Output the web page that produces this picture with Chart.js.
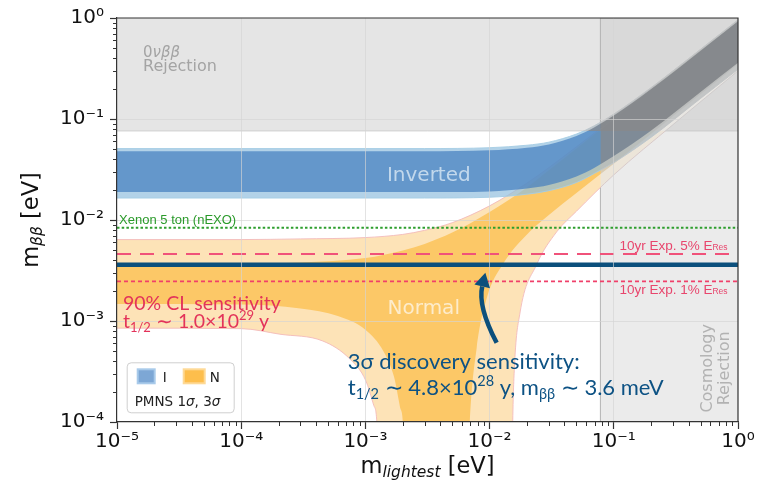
<!DOCTYPE html>
<html>
<head>
<meta charset="utf-8">
<script src="https://cdn.jsdelivr.net/npm/chart.js@4.4.1/dist/chart.umd.min.js"></script>
<style>html,body{margin:0;padding:0;background:#fff;}canvas{display:block;}</style>
</head>
<body>
<canvas id="c" width="767" height="482"></canvas>
<script>
// ---------------- data ----------------
const xTicks = [1e-5, 1e-4, 1e-3, 1e-2, 1e-1, 1];
const xTickLabels = ['10\u207B\u2075', '10\u207B\u2074', '10\u207B\u00B3', '10\u207B\u00B2', '10\u207B\u00B9', '10\u2070'];
const yTicks = [1e-4, 1e-3, 1e-2, 1e-1, 1];
const yTickLabels = ['10\u207B\u2074', '10\u207B\u00B3', '10\u207B\u00B2', '10\u207B\u00B9', '10\u2070'];

// Inverted ordering band (m_lightest -> m_bb, eV)
const ioM   = [1e-5, 1e-4, 1e-3, 3e-3, 0.01, 0.02, 0.03, 0.05, 0.07, 0.1, 0.2, 0.5, 1];
const io3Up = [0.051, 0.051, 0.051, 0.051, 0.052, 0.055, 0.059, 0.071, 0.086, 0.112, 0.205, 0.49, 0.96];
const io1Up = [0.048, 0.048, 0.048, 0.048, 0.049, 0.052, 0.056, 0.068, 0.083, 0.108, 0.198, 0.475, 0.93];
const io1Lo = [0.0189, 0.0189, 0.0189, 0.0189, 0.0192, 0.0205, 0.0222, 0.027, 0.033, 0.043, 0.077, 0.185, 0.36];
const io3Lo = [0.0165, 0.0165, 0.0165, 0.0165, 0.0168, 0.018, 0.0195, 0.0235, 0.029, 0.037, 0.066, 0.16, 0.31];

// Normal ordering band
const noUpM = [1e-5, 1e-4, 3e-4, 1e-3, 2e-3, 3e-3, 5e-3, 0.01, 0.02, 0.03, 0.05, 0.1, 0.3, 1];
const no3Up = [0.0064, 0.0064, 0.0065, 0.0067, 0.0072, 0.0079, 0.0094, 0.0138, 0.0232, 0.033, 0.053, 0.102, 0.30, 0.95];
const no1Up = [0.0037, 0.0037, 0.0038, 0.0042, 0.0050, 0.0058, 0.0075, 0.0120, 0.021, 0.031, 0.051, 0.100, 0.295, 0.93];
const no1LoM = [1e-5, 1e-4, 3e-4, 6e-4, 1e-3, 1.4e-3, 1.7e-3, 1.9e-3, 2.0e-3, 2.1e-3, 6.6e-3, 6.92e-3, 7.87e-3, 9.48e-3, 0.01274, 0.021, 0.03, 0.05, 0.1, 0.3, 1];
const no1Lo  = [1.47e-3, 1.46e-3, 1.33e-3, 1.12e-3, 8.2e-4, 5.0e-4, 2.8e-4, 1.4e-4, 1.0e-4, 2e-5, 2e-5, 1.0e-4, 5.4e-4, 1.68e-3, 3.62e-3, 7.64e-3, 0.0112, 0.0185, 0.036, 0.107, 0.35];
const no3LoM = [1e-5, 1e-4, 2.05e-4, 4.54e-4, 7.48e-4, 1.007e-3, 1.168e-3, 1.236e-3, 1.28e-3, 0.0151, 0.01535, 0.0159, 0.0175, 0.0239, 0.0347, 0.05, 0.1, 0.3, 1];
const no3Lo  = [8.5e-4, 8.4e-4, 7.4e-4, 6.34e-4, 4.22e-4, 2.57e-4, 1.46e-4, 1.0e-4, 2e-5, 2e-5, 1.0e-4, 3.78e-4, 1.17e-3, 3.62e-3, 7.64e-3, 0.0122, 0.028, 0.088, 0.30];

// sensitivity lines (m_bb, eV)
const xenonLimit = 0.0084;
const exp5Limit = 0.0046;
const discLimit = 0.0036;
const exp1Limit = 0.00247;
// excluded regions
const dbdLimit = 0.0762;   // m_bb above this rejected
const cosmoLimit = 0.078;  // m_lightest above this rejected

// annotation anchors (data units: [m_lightest, m_bb])
const notes = {
  dbd1: [1.62e-5, 0.415], dbd2: [1.62e-5, 0.296],
  inverted: [3.24e-3, 0.0241], normal: [2.95e-3, 1.17e-3],
  xenon: [1.04e-5, 9.14e-3],
  res5: [0.824, 5.08e-3], res1: [0.824, 1.84e-3],
  cl1: [1.117e-5, 1.28e-3], cl2: [1.117e-5, 8.54e-4],
  disc1: [7.21e-4, 3.31e-4], disc2: [7.21e-4, 1.84e-4],
  cosmo1: [0.612, 3.4e-4], cosmo2: [0.839, 3.4e-4],
  legend: [1.197e-5, 3.9e-4],
  arrowTail: [0.0114, 6.08e-4], arrowCtrl: [8.01e-3, 1.40e-3], arrowEnd: [8.72e-3, 2.20e-3]
};

// ---------------- build datasets ----------------
const xMin = xTicks[0], xMax = xTicks[xTicks.length - 1];
const yMin = yTicks[0], yMax = yTicks[yTicks.length - 1];
const S = (xs, ys) => xs.map((x, i) => ({x: x, y: ys[i]}));
const datasets = [];
function addDs(o) {
  datasets.push(Object.assign({pointRadius: 0, pointHoverRadius: 0, borderWidth: 0, fill: false, borderColor: 'rgba(0,0,0,0)'}, o));
  return datasets.length - 1;
}
const mono = 'monotone';

// rejection zones (base)
addDs({data: S([xMin, xMax], [dbdLimit, dbdLimit]), fill: 'end', backgroundColor: '#e5e5e5', borderColor: '#d0d0d0', borderWidth: 1, order: 100});
addDs({data: S([cosmoLimit, cosmoLimit, xMax], [yMin, yMax, yMax]), fill: 'start', backgroundColor: 'rgba(190,191,192,0.31)', borderColor: '#b2b2b2', borderWidth: 1, order: 99});

// normal ordering
const no3LoI = addDs({data: S(no3LoM, no3Lo), order: 90, borderColor: 'rgba(243,186,186,0.9)', borderWidth: 1, cubicInterpolationMode: mono});
addDs({data: S(noUpM, no3Up), order: 90, fill: no3LoI, backgroundColor: '#fde3b7', borderColor: 'rgba(243,186,186,0.9)', borderWidth: 1, cubicInterpolationMode: mono});
const no1LoI = addDs({data: S(no1LoM, no1Lo), order: 80, cubicInterpolationMode: mono});
addDs({data: S(noUpM, no1Up), order: 80, fill: no1LoI, backgroundColor: '#fcc867', cubicInterpolationMode: mono});

// inverted ordering
const io3LoI = addDs({data: S(ioM, io3Lo), order: 70, borderColor: 'rgba(165,205,228,0.9)', borderWidth: 1, cubicInterpolationMode: mono});
addDs({data: S(ioM, io3Up), order: 70, fill: io3LoI, backgroundColor: 'rgba(145,191,222,0.7)', borderColor: 'rgba(165,205,228,0.9)', borderWidth: 1, cubicInterpolationMode: mono});
const io1LoI = addDs({data: S(ioM, io1Lo), order: 60, cubicInterpolationMode: mono});
addDs({data: S(ioM, io1Up), order: 60, fill: io1LoI, backgroundColor: 'rgba(67,126,191,0.7)', cubicInterpolationMode: mono});

// desaturating veil over the rejection zones
addDs({data: S([xMin, xMax], [dbdLimit, dbdLimit]), fill: 'end', backgroundColor: 'rgba(128,128,128,0.72)', blend: 'saturation', order: 50});
addDs({data: S([cosmoLimit, cosmoLimit, xMax], [yMin, yMax, yMax]), fill: 'start', backgroundColor: 'rgba(128,128,128,0.72)', blend: 'saturation', order: 50});

// sensitivity lines
addDs({data: S([xMin, xMax], [xenonLimit, xenonLimit]), borderColor: '#2e9e2e', borderWidth: 2, borderDash: [2.5, 2.2], order: 13});
addDs({data: S([xMin, xMax], [exp5Limit, exp5Limit]), borderColor: '#f0527a', borderWidth: 2, borderDash: [14, 9], order: 12});
addDs({data: S([xMin, xMax], [exp1Limit, exp1Limit]), borderColor: '#f0406a', borderWidth: 1.6, borderDash: [4, 3], order: 11});
addDs({data: S([xMin, xMax], [discLimit, discLimit]), borderColor: '#0b4f7c', borderWidth: 4.5, order: 10});

// ---------------- plugins ----------------
const blendPlugin = {
  id: 'blend',
  beforeDatasetDraw(chart, args) {
    const b = chart.data.datasets[args.index].blend;
    if (b) { chart.ctx.save(); chart.ctx.globalCompositeOperation = b; }
  },
  afterDatasetDraw(chart, args) {
    if (chart.data.datasets[args.index].blend) chart.ctx.restore();
  }
};
// make the blend hook run before the filler draws each fill
const fillerPlugin = Chart.registry.getPlugin('filler');
Chart.unregister(fillerPlugin);
Chart.register(blendPlugin);
Chart.register(fillerPlugin);

const whiteBg = {
  id: 'whiteBg',
  beforeDraw(chart) {
    const ctx = chart.ctx;
    ctx.save(); ctx.fillStyle = '#ffffff'; ctx.fillRect(0, 0, chart.width, chart.height); ctx.restore();
  }
};

function rich(ctx, x, y, segs, align) {
  let w = 0;
  segs.forEach(s => { ctx.font = s.f; s.w = ctx.measureText(s.t).width; w += s.w; });
  let cx = align === 'center' ? x - w / 2 : (align === 'right' ? x - w : x);
  ctx.textAlign = 'left';
  ctx.textBaseline = 'alphabetic';
  segs.forEach(s => { ctx.font = s.f; ctx.fillText(s.t, cx, y + (s.dy || 0)); cx += s.w; });
}

const DV = "'DejaVu Sans'";
const LA = "Lato, 'Open Sans', sans-serif";
const LS = "'Liberation Sans', Arial, sans-serif";

const decorPlugin = {
  id: 'decor',
  afterDraw(chart) {
    const ctx = chart.ctx, xs = chart.scales.x, ys = chart.scales.y, a = chart.chartArea;
    const P = k => [xs.getPixelForValue(notes[k][0]), ys.getPixelForValue(notes[k][1])];
    ctx.save();
    // minor ticks
    ctx.strokeStyle = '#333'; ctx.lineWidth = 1;
    for (let e = Math.log10(xMin); e < Math.log10(xMax); e++) {
      for (let k = 2; k <= 9; k++) {
        const px = Math.round(xs.getPixelForValue(k * Math.pow(10, e))) + 0.5;
        ctx.beginPath(); ctx.moveTo(px, a.bottom); ctx.lineTo(px, a.bottom + 4); ctx.stroke();
      }
    }
    for (let e = Math.log10(yMin); e < Math.log10(yMax); e++) {
      for (let k = 2; k <= 9; k++) {
        const py = Math.round(ys.getPixelForValue(k * Math.pow(10, e))) + 0.5;
        ctx.beginPath(); ctx.moveTo(a.left, py); ctx.lineTo(a.left - 4, py); ctx.stroke();
      }
    }
    // top / right frame
    ctx.strokeStyle = '#333'; ctx.lineWidth = 1.2;
    ctx.beginPath(); ctx.moveTo(a.left, a.top); ctx.lineTo(a.right, a.top); ctx.lineTo(a.right, a.bottom); ctx.stroke();

    // region labels
    let p;
    ctx.fillStyle = '#a4a4a4';
    p = P('dbd1'); rich(ctx, p[0], p[1], [{t: '0', f: '15px ' + DV}, {t: '\u03BD\u03B2\u03B2', f: 'italic 15px ' + DV}], 'left');
    p = P('dbd2'); rich(ctx, p[0], p[1], [{t: 'Rejection', f: '16px ' + DV}], 'left');

    ctx.fillStyle = '#c2d8ec';
    p = P('inverted'); rich(ctx, p[0], p[1], [{t: 'Inverted', f: '20px ' + DV}], 'center');
    ctx.fillStyle = '#fdeccc';
    p = P('normal'); rich(ctx, p[0], p[1], [{t: 'Normal', f: '20px ' + DV}], 'center');

    ctx.fillStyle = '#2a9a2a';
    p = P('xenon'); rich(ctx, p[0], p[1], [{t: 'Xenon 5 ton (nEXO)', f: '13px ' + LS}], 'left');

    ctx.fillStyle = '#e8466d';
    p = P('res5'); rich(ctx, p[0], p[1], [{t: '10yr Exp. 5% E', f: '13.5px ' + LS}, {t: 'Res', f: '8.5px ' + LS}], 'right');
    p = P('res1'); rich(ctx, p[0], p[1], [{t: '10yr Exp. 1% E', f: '13.5px ' + LS}, {t: 'Res', f: '8.5px ' + LS}], 'right');

    ctx.fillStyle = '#e3335a';
    p = P('cl1'); rich(ctx, p[0], p[1], [{t: '90% CL sensitivity', f: '19.5px ' + LA}], 'left');
    p = P('cl2'); rich(ctx, p[0], p[1], [
      {t: 't', f: '19.5px ' + LA}, {t: '1/2', f: '13px ' + LA, dy: 4},
      {t: ' \u223C 1.0\u00D710', f: '19.5px ' + LA}, {t: '29', f: '13px ' + LA, dy: -8}, {t: ' y', f: '19.5px ' + LA}], 'left');

    ctx.fillStyle = '#0d5284';
    p = P('disc1'); rich(ctx, p[0], p[1], [{t: '3\u03C3 discovery sensitivity:', f: '22px ' + LA}], 'left');
    p = P('disc2'); rich(ctx, p[0], p[1], [
      {t: 't', f: '22px ' + LA}, {t: '1/2', f: '14.5px ' + LA, dy: 4},
      {t: ' \u223C 4.8\u00D710', f: '22px ' + LA}, {t: '28', f: '14.5px ' + LA, dy: -9},
      {t: ' y, m', f: '22px ' + LA}, {t: '\u03B2\u03B2', f: '14.5px ' + LA, dy: 4},
      {t: ' \u223C 3.6 meV', f: '22px ' + LA}], 'left');

    // cosmology label (rotated)
    ctx.fillStyle = '#b2b2b2';
    ['cosmo1', 'cosmo2'].forEach((k, i) => {
      const q = P(k);
      ctx.save(); ctx.translate(q[0], q[1]); ctx.rotate(-Math.PI / 2);
      rich(ctx, 0, 0, [{t: i === 0 ? 'Cosmology' : 'Rejection', f: '16px ' + DV}], 'center');
      ctx.restore();
    });

    // arrow
    const t0 = P('arrowTail'), c0 = P('arrowCtrl'), e0 = P('arrowEnd');
    ctx.strokeStyle = '#0b4f7c'; ctx.fillStyle = '#0b4f7c'; ctx.lineWidth = 4.5; ctx.lineCap = 'butt';
    ctx.beginPath(); ctx.moveTo(t0[0], t0[1]); ctx.quadraticCurveTo(c0[0], c0[1], e0[0], e0[1]); ctx.stroke();
    let dx = e0[0] - c0[0], dy = e0[1] - c0[1]; const L = Math.hypot(dx, dy); dx /= L; dy /= L;
    ctx.beginPath();
    ctx.moveTo(e0[0] + dx * 14, e0[1] + dy * 14);
    ctx.lineTo(e0[0] - dy * 8, e0[1] + dx * 8);
    ctx.lineTo(e0[0] + dy * 8, e0[1] - dx * 8);
    ctx.closePath(); ctx.fill();

    // legend box
    const lg = P('legend');
    const lx = lg[0], ly = lg[1];
    ctx.fillStyle = 'rgba(255,255,255,0.9)'; ctx.strokeStyle = '#cfcfcf'; ctx.lineWidth = 1;
    ctx.beginPath(); ctx.roundRect(lx + 0.5, ly + 0.5, 107, 50, 4); ctx.fill(); ctx.stroke();
    ctx.lineWidth = 2;
    ctx.fillStyle = '#7da7d5'; ctx.strokeStyle = '#a8caea';
    ctx.fillRect(lx + 11, ly + 7, 17, 14); ctx.strokeRect(lx + 11, ly + 7, 17, 14);
    ctx.fillStyle = '#fdbe4c'; ctx.strokeStyle = '#fed995';
    ctx.fillRect(lx + 57, ly + 7, 21, 14); ctx.strokeRect(lx + 57, ly + 7, 21, 14);
    ctx.fillStyle = '#222';
    rich(ctx, lx + 36, ly + 20, [{t: 'I', f: '13.5px ' + DV}], 'left');
    rich(ctx, lx + 83, ly + 20, [{t: 'N', f: '13.5px ' + DV}], 'left');
    rich(ctx, lx + 8, ly + 44, [
      {t: 'PMNS 1', f: '13.5px ' + DV}, {t: '\u03C3', f: 'italic 13.5px ' + DV},
      {t: ', 3', f: '13.5px ' + DV}, {t: '\u03C3', f: 'italic 13.5px ' + DV}], 'left');

    // axis titles
    ctx.fillStyle = '#111';
    rich(ctx, (a.left + a.right) / 2, a.bottom + 51, [
      {t: 'm', f: '22.5px ' + DV}, {t: 'lightest', f: 'italic 15.5px ' + DV, dy: 4},
      {t: ' [eV]', f: '22.5px ' + DV}], 'center');
    ctx.save(); ctx.translate(a.left - 79, (a.top + a.bottom) / 2); ctx.rotate(-Math.PI / 2);
    rich(ctx, 0, 0, [{t: 'm', f: '22.5px ' + DV}, {t: '\u03B2\u03B2', f: 'italic 15.5px ' + DV, dy: 4}, {t: ' [eV]', f: '22.5px ' + DV}], 'center');
    ctx.restore();
    ctx.restore();
  }
};

const findIdx = (arr, v) => arr.findIndex(t => Math.abs(Math.log10(t) - Math.log10(v)) < 1e-6);
const gridCol = (arr) => (c) => {
  const v = c.tick ? c.tick.value : null;
  if (v === null) return 'rgba(0,0,0,0)';
  const i = findIdx(arr, v);
  return (i <= 0 || i === arr.length - 1) ? 'rgba(0,0,0,0)' : 'rgba(212,212,212,0.65)';
};

new Chart(document.getElementById('c'), {
  type: 'line',
  data: {datasets: datasets},
  options: {
    responsive: false, animation: false, devicePixelRatio: 1, events: [],
    layout: {padding: {left: 0, right: 29, top: 14, bottom: 0}},
    plugins: {legend: {display: false}, tooltip: {enabled: false}},
    scales: {
      x: {
        type: 'logarithmic', min: xMin, max: xMax, position: 'bottom',
        afterBuildTicks: s => { s.ticks = xTicks.map(v => ({value: v})); },
        afterFit: s => { s.height = 60; },
        ticks: {autoSkip: false, maxRotation: 0, minRotation: 0, color: '#111', padding: 1,
                font: {family: 'DejaVu Sans', size: 20},
                callback: v => xTickLabels[findIdx(xTicks, v)]},
        grid: {z: 1, color: gridCol(xTicks), lineWidth: 1, drawTicks: true, tickLength: 7, tickColor: '#333', tickWidth: 1.2},
        border: {display: true, color: '#333', width: 1.2, z: 2}
      },
      y: {
        type: 'logarithmic', min: yMin, max: yMax, position: 'left',
        afterBuildTicks: s => { s.ticks = yTicks.map(v => ({value: v})); },
        afterFit: s => { s.width = 117; },
        ticks: {autoSkip: false, color: '#111', padding: 6,
                font: {family: 'DejaVu Sans', size: 20},
                callback: v => yTickLabels[findIdx(yTicks, v)]},
        grid: {z: 1, color: gridCol(yTicks), lineWidth: 1, drawTicks: true, tickLength: 7, tickColor: '#333', tickWidth: 1.2},
        border: {display: true, color: '#333', width: 1.2, z: 2}
      }
    }
  },
  plugins: [whiteBg, decorPlugin]
});
</script>
</body>
</html>
